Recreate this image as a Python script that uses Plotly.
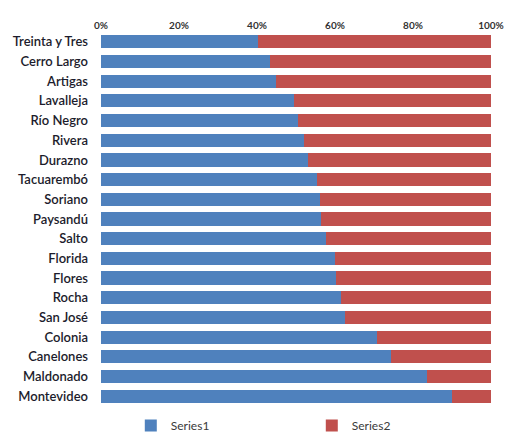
import plotly.graph_objects as go

departments = [
    "Treinta y Tres", "Cerro Largo", "Artigas", "Lavalleja", "Río Negro",
    "Rivera", "Durazno", "Tacuarembó", "Soriano", "Paysandú", "Salto",
    "Florida", "Flores", "Rocha", "San José", "Colonia", "Canelones",
    "Maldonado", "Montevideo",
]
series1 = [40.2, 43.4, 44.8, 49.6, 50.5, 52.1, 53.0, 55.5, 56.2, 56.5, 57.6,
           60.0, 60.3, 61.6, 62.5, 70.8, 74.4, 83.5, 89.9]
series2 = [100 - v for v in series1]

BLUE = "#4F81BD"
RED = "#C0504D"

fig = go.Figure()
fig.add_trace(go.Bar(y=departments, x=series1, name="Series1", orientation="h",
                     marker={"color": BLUE, "line": {"width": 0}}))
fig.add_trace(go.Bar(y=departments, x=series2, name="Series2", orientation="h",
                     marker={"color": RED, "line": {"width": 0}}))

fig.update_layout(
    barmode="stack",
    barnorm="percent",
    bargap=0.33,
    width=505,
    height=435,
    margin={"l": 101, "r": 14, "t": 32, "b": 29, "autoexpand": False},
    paper_bgcolor="white",
    plot_bgcolor="white",
    font={"family": "Lato, Liberation Sans, sans-serif", "size": 13, "color": "#1c1c2c",
          "weight": 600},
    showlegend=True,
    legend={
        "orientation": "h",
        "xref": "container",
        "x": 0.259,
        "xanchor": "left",
        "yref": "paper",
        "y": -0.052,
        "yanchor": "middle",
        "entrywidth": 136,
        "entrywidthmode": "pixels",
        "bgcolor": "rgba(0,0,0,0)",
        "font": {"size": 12, "color": "#3a3a3a", "weight": "normal"},
        "traceorder": "normal",
    },
    xaxis={
        "side": "top",
        "range": [0, 100],
        "tickvals": [0, 20, 40, 60, 80, 100],
        "ticktext": ["0%", "20%", "40%", "60%", "80%", "100%"],
        "showgrid": False,
        "zeroline": False,
        "showline": False,
        "ticks": "",
        "tickfont": {"size": 10, "color": "#333", "weight": "bold"},
        "fixedrange": True,
    },
    yaxis={
        "autorange": "reversed",
        "showgrid": False,
        "showline": False,
        "ticks": "",
        "ticklabelstandoff": 12,
        "fixedrange": True,
    },
)

fig.write_html(
    "out.html",
    config={"displayModeBar": False},
    post_script="document.body.style.margin='0';",
)
